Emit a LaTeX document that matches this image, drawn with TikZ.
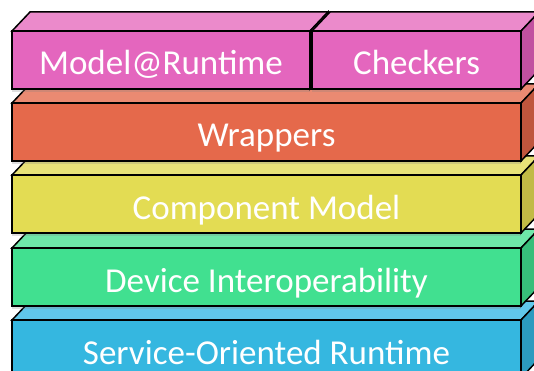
\documentclass[tikz,border=0pt]{standalone}
\usepackage{fontspec}
\setmainfont{Carlito}
\usetikzlibrary{shadows}

% Colores (frente, tapa, lado)
\definecolor{rosaF}{HTML}{E466BE}
\definecolor{rosaT}{HTML}{EB8ACB}
\definecolor{rosaS}{HTML}{C151A0}
\definecolor{naranjaF}{HTML}{E5694B}
\definecolor{naranjaT}{HTML}{EA8A72}
\definecolor{naranjaS}{HTML}{BF563D}
\definecolor{amarilloF}{HTML}{E3DC53}
\definecolor{amarilloT}{HTML}{E8E278}
\definecolor{amarilloS}{HTML}{C1BA45}
\definecolor{verdeF}{HTML}{41E090}
\definecolor{verdeT}{HTML}{6EE7A9}
\definecolor{verdeS}{HTML}{37BE7A}
\definecolor{azulF}{HTML}{35B7E0}
\definecolor{azulT}{HTML}{60C7EA}
\definecolor{azulS}{HTML}{2C9BBF}

\tikzset{
  caja/.style={draw=black, line width=1.5pt, line join=miter},
  sombra/.style={drop shadow={shadow xshift=0pt, shadow yshift=-3pt, opacity=0.25}},
  etiqueta/.style={text=white, font=\fontsize{35}{35}\selectfont, inner sep=0pt, anchor=base},
}

% Caja 3D: x1, x2, y superior, color, nombre, texto
\newcommand{\capa}[6]{%
  \filldraw[caja, fill=#4T] (#1,#3) -- (#1+18,#3-19) -- (#2+18,#3-19) -- (#2,#3) -- cycle;
  \filldraw[caja, fill=#4S] (#2,#3) -- (#2+18,#3-19) -- (#2+18,#3+39) -- (#2,#3+58) -- cycle;
  \filldraw[caja, sombra, fill=#4F] (#1,#3) rectangle (#2,#3+58);
  \node[etiqueta] (#5) at ({(#1+#2)/2},#3+44) {#6};
}

\begin{document}
\begin{tikzpicture}[x=1pt, y=-1pt]
        \useasboundingbox (0,0) rectangle (534,371);
        \clip (0,0) rectangle (534,371);

        % Capas, de abajo hacia arriba
        \capa{12}{521}{320}{azul}{sor}{Service-Oriented Runtime}
        \capa{12}{521}{248}{verde}{interop}{Device Interoperability}
        \capa{12}{521}{175}{amarillo}{componentes}{Component Model}
        \capa{12}{521}{103}{naranja}{wrappers}{Wrappers}

        % Capa superior, dos cajas
        \capa{12}{310}{31}{rosa}{modelo}{Model@Runtime}
        \capa{312}{521}{31}{rosa}{checkers}{Checkers}
    \end{tikzpicture}
\end{document}
